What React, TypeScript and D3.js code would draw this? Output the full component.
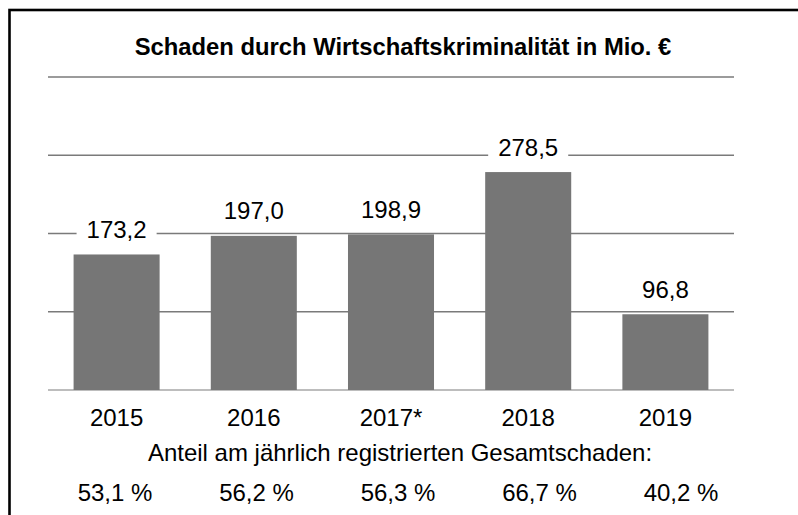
import React from "react";
import * as d3 from "d3";

const years = ["2015", "2016", "2017*", "2018", "2019"];
const damage = [173.2, 197.0, 198.9, 278.5, 96.8];
const shares = [53.1, 56.2, 56.3, 66.7, 40.2];
const yTicks = [0, 100, 200, 300, 400];
const title = "Schaden durch Wirtschaftskriminalität in Mio. €";
const subtitle = "Anteil am jährlich registrierten Gesamtschaden:";

const W = 798;
const H = 515;
const FONT = "'Liberation Sans', Arial, sans-serif";
const FS = 24;

const fmt = (v: number) => v.toFixed(1).replace(".", ",");

export default function App() {
  const x = d3.scaleBand<string>().domain(years).range([48, 734]).paddingInner(0.373).paddingOuter(0.1865);
  const y = d3.scaleLinear().domain([0, 400]).range([390, 77]);
  const xp = d3.scalePoint<string>().domain(years).range([115, 681]);

  return (
    <svg width={W} height={H} style={{ position: "absolute", left: 0, top: 0, background: "#fff" }}>
      <rect x={0} y={0} width={W} height={H} fill="#fff" />
      <rect x={9.5} y={10} width={W + 20} height={H + 20} fill="none" stroke="#000" strokeWidth={2.6} />
      <text x={403} y={55} textAnchor="middle" fontFamily={FONT} fontWeight="bold" fontSize={23.8} fill="#000">
        {title}
      </text>
      {yTicks.map((t) => (
        <line
          key={t}
          x1={48}
          x2={734}
          y1={y(t)}
          y2={y(t)}
          stroke={t === 0 ? "#bdbdbd" : "#7a7a7a"}
          strokeWidth={t === 0 ? 1.8 : 1.5}
        />
      ))}
      {years.map((yr, i) => (
        <rect key={yr} x={x(yr)} y={y(damage[i])} width={x.bandwidth()} height={y(0) - y(damage[i])} fill="#767676" />
      ))}
      {years.map((yr, i) => {
        const cx = (x(yr) as number) + x.bandwidth() / 2;
        const by = y(damage[i]) - 16.5;
        const label = fmt(damage[i]);
        const tw = (label.length - 1) * 0.556 * FS + 0.278 * FS;
        return (
          <g key={"l" + yr}>
            <rect x={cx - tw / 2 - 10} y={by - 21} width={tw + 20} height={27} fill="#fff" />
            <text x={cx} y={by} textAnchor="middle" fontFamily={FONT} fontSize={FS} fill="#000">
              {label}
            </text>
          </g>
        );
      })}
      {years.map((yr) => (
        <text
          key={"y" + yr}
          x={(x(yr) as number) + x.bandwidth() / 2}
          y={426}
          textAnchor="middle"
          fontFamily={FONT}
          fontSize={FS}
          fill="#000"
        >
          {yr}
        </text>
      ))}
      <text x={400} y={461} textAnchor="middle" fontFamily={FONT} fontSize={FS} fill="#000">
        {subtitle}
      </text>
      {years.map((yr, i) => (
        <text key={"p" + yr} x={xp(yr)} y={501} textAnchor="middle" fontFamily={FONT} fontSize={FS} fill="#000">
          {fmt(shares[i]) + " %"}
        </text>
      ))}
    </svg>
  );
}
